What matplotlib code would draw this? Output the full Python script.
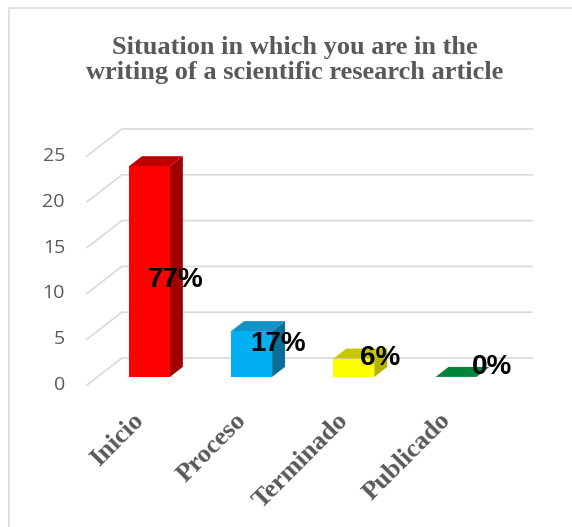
import matplotlib
matplotlib.use('Agg')
import matplotlib.pyplot as plt
from matplotlib.patches import Polygon

# data
categories = ['Inicio', 'Proceso', 'Terminado', 'Publicado']
counts = [23, 5, 2, 0]
pct_labels = ['77%', '17%', '6%', '0%']
yticks = [0, 5, 10, 15, 20, 25]

front_colors = ['#ff0000', '#00b0f0', '#ffff00', '#00843c']
side_colors = ['#a00000', '#0a6e96', '#b3b300', '#00843c']
top_colors = ['#c00000', '#0f93c8', '#c8c800', '#00843c']

title = 'Situation in which you are in the\nwriting of a scientific research article'
grey = '#595959'
grid_c = '#d9d9d9'

# pseudo 3d geometry (depth 0 = front of floor, 1 = back wall)
DX, DY = 0.342, 2.95
d0, d1 = 0.30, 0.67
w = 0.40
x_left, x_right = -0.509, 3.503


def p(x, v, d):
    return (x + d * DX, v + d * DY)


fig = plt.figure(figsize=(5.72, 5.27), dpi=100)
ax = fig.add_axes([0, 0, 1, 1])
ax.set_xlim(-1.360, 4.237)
ax.set_ylim(-15.50, 42.03)
ax.axis('off')

# walls grid
for t in yticks:
    xs, ys = zip(p(x_left, t, 0), p(x_left, t, 1), p(x_right, t, 1))
    ax.plot(xs, ys, color=grid_c, lw=1.2, zorder=1)
    ax.text(-0.724, t, str(t), ha='right', va='center', fontsize=14,
            color=grey, family='Open Sans')

# bars
for i, (v, cf, cs, ct) in enumerate(zip(counts, front_colors, side_colors, top_colors)):
    xl, xr = i - w / 2, i + w / 2
    side = [p(xr, 0, d0), p(xr, v, d0), p(xr, v, d1), p(xr, 0, d1)]
    top = [p(xl, v, d0), p(xr, v, d0), p(xr, v, d1), p(xl, v, d1)]
    front = [p(xl, 0, d0), p(xr, 0, d0), p(xr, v, d0), p(xl, v, d0)]
    ax.add_patch(Polygon(side, closed=True, fc=cs, ec='none', zorder=2))
    ax.add_patch(Polygon(top, closed=True, fc=ct, ec='none', zorder=2))
    ax.add_patch(Polygon(front, closed=True, fc=cf, ec='none', zorder=3))

# data labels
for i, (v, lab) in enumerate(zip(counts, pct_labels)):
    ly = v / 2 + (2.0 if v < 10 else 0)
    lx = i + (0.36 if v > 0 else 0.45)
    ax.text(lx, ly, lab, ha='center', va='center', fontsize=20,
            fontweight='bold', color='black', family='Liberation Sans', zorder=5)

# category labels
for i, c in enumerate(categories):
    ax.text(i - 0.07, -2.6, c, ha='right', va='top', rotation=45,
            rotation_mode='anchor', fontsize=19, fontweight='bold',
            color=grey, family='Liberation Serif')

ax.text(1.526, 35.5, title, ha='center', va='center', fontsize=19,
        fontweight='bold', color=grey, family='Liberation Serif',
        linespacing=1.1)

# chart border
fig.patches.append(plt.Rectangle((9 / 572, -0.1), 1.2, 1.1 - 8 / 527,
                                 transform=fig.transFigure, fill=False,
                                 ec=grid_c, lw=1.2))

fig.savefig('out.png', dpi=100)
